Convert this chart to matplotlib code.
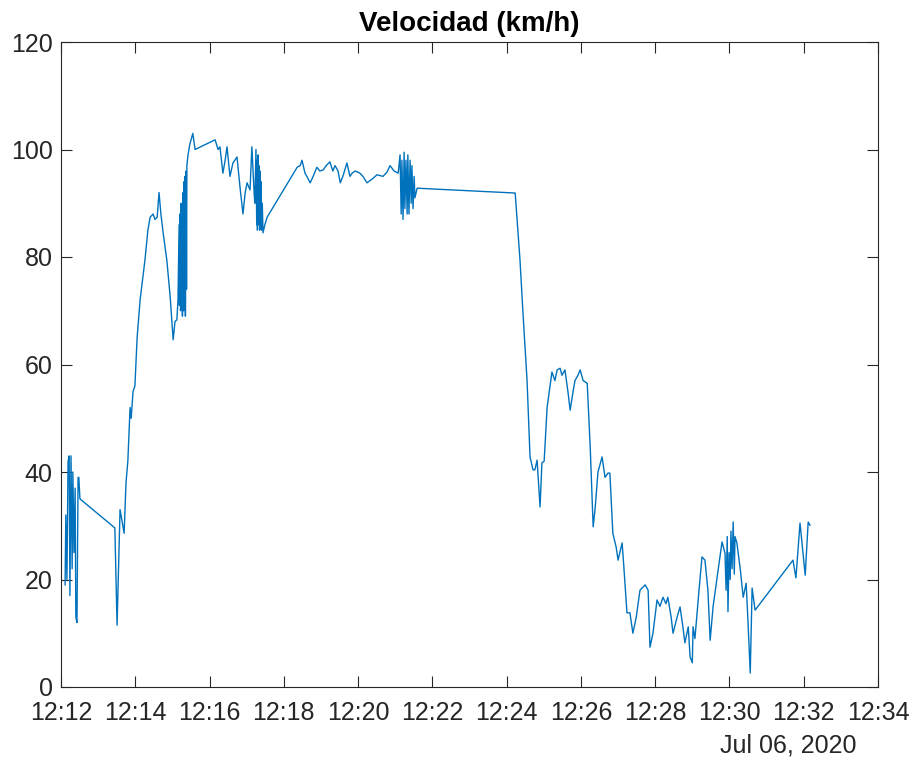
import matplotlib
matplotlib.use("Agg")
import matplotlib.pyplot as plt
import matplotlib.dates as mdates
import numpy as np
from datetime import datetime, timedelta

plt.rcParams['font.family'] = ['Liberation Sans', 'DejaVu Sans']

# time in minutes after 12:12:00, speed in km/h
minutes = [
    0.11, 0.13, 0.16, 0.19, 0.22, 0.24, 0.27, 0.30, 0.32, 0.35, 0.38, 0.40, 0.43, 0.46, 0.48, 0.51,
    1.45, 1.51, 1.59, 1.64, 1.70, 1.75, 1.80, 1.86, 1.89, 1.94, 1.99, 2.05, 2.13, 2.26, 2.34, 2.40,
    2.48, 2.53, 2.59, 2.64, 2.69, 2.75, 2.85, 2.94, 3.02, 3.07, 3.12, 3.15,
    3.18, 3.19, 3.20, 3.22, 3.23, 3.245, 3.26, 3.27, 3.29, 3.30, 3.31, 3.33, 3.34, 3.35, 3.37, 3.38, 3.39,
    3.42, 3.47, 3.55, 3.61, 4.15, 4.23,
    4.28, 4.36, 4.42, 4.47, 4.55, 4.63, 4.74, 4.82, 4.90, 4.96, 5.01, 5.09, 5.14, 5.20, 5.22,
    5.25, 5.27, 5.28, 5.29, 5.31, 5.32, 5.33, 5.35, 5.36, 5.37, 5.39, 5.40, 5.42,
    5.44, 5.49, 5.55, 6.36, 6.44, 6.49, 6.57, 6.62, 6.71, 6.79, 6.89, 6.97, 7.06, 7.14, 7.24, 7.32,
    7.38, 7.46, 7.52, 7.59, 7.70, 7.78, 7.84, 7.92, 8.05, 8.13, 8.24, 8.38, 8.51, 8.67, 8.78, 8.86,
    8.97, 9.08,
    9.13, 9.16, 9.18, 9.21, 9.24, 9.26, 9.29, 9.32, 9.34, 9.37, 9.40, 9.43, 9.45, 9.48, 9.51, 9.53,
    9.59, 12.23,
    12.36, 12.44, 12.55, 12.60, 12.63, 12.71, 12.76, 12.82, 12.90, 12.95, 13.01, 13.09, 13.22, 13.30,
    13.36, 13.44, 13.49, 13.57, 13.65, 13.71, 13.79, 13.84, 13.92, 13.98, 14.06, 14.17, 14.25, 14.33,
    14.38, 14.46, 14.57, 14.65, 14.73, 14.78, 14.86, 14.95, 15.00, 15.11, 15.16, 15.24, 15.32, 15.40,
    15.49, 15.59, 15.73, 15.81, 15.86, 15.94, 16.05, 16.13, 16.21, 16.29, 16.34, 16.43, 16.48, 16.59,
    16.67, 16.75, 16.80, 16.89, 16.94, 17.00, 17.02, 17.07, 17.18, 17.26, 17.34, 17.42, 17.48, 17.56,
    17.67, 17.80, 17.88,
    17.91, 17.94, 17.96, 17.99, 18.02, 18.04, 18.07, 18.10, 18.13, 18.15,
    18.20, 18.29, 18.37, 18.45, 18.50, 18.56, 18.61, 18.69, 19.71, 19.79, 19.90, 20.04, 20.12, 20.17,
]
speed = [
    19, 32, 20, 42, 43, 17, 43, 22, 40, 25, 37, 13, 12, 39, 39, 35,
    29.6, 11.5, 33, 31, 28.6, 38, 42, 52, 50, 55, 56, 65, 72, 79.4, 85, 87.4,
    88, 87, 87.4, 92, 88, 84.5, 79.4, 72.6, 64.6, 68, 68.3, 72,
    86, 71, 88, 70, 90, 72, 86, 69, 92, 70, 94, 71, 95, 69, 96, 74, 97,
    99, 101, 103, 100, 101.8, 100,
    100.5, 95.6, 98, 100.5, 95, 97.5, 98.6, 93, 88, 92, 93.8, 92.5, 100.5, 92, 90,
    100, 86, 98, 85, 99, 86, 97, 85, 96, 86, 94, 85, 90,
    84.5, 86, 87.4, 96.7, 97, 98, 95.6, 95, 93.8, 95, 96.7, 96, 96.2, 97, 97.7, 96,
    97, 96, 93.8, 95, 97.5, 95, 95.6, 96, 95.6, 95, 93.8, 94.5, 95.3, 95, 95.8, 97,
    96, 95.6,
    99, 88, 98, 87, 99.5, 89, 98, 88, 99, 88, 98, 90, 97, 89, 95, 91,
    92.8, 91.9,
    79.4, 69.6, 57, 48, 42.8, 40.4, 40.4, 42.2, 33.5, 41.7, 42, 52, 58.6, 57,
    59, 59.3, 58, 59, 55, 51.5, 55, 57, 58, 59, 57, 56.5, 44.7, 29.8,
    33, 40, 42.8, 39, 39.8, 39.8, 28.6, 26, 23.6, 26.8, 22, 13.8, 13.8, 10,
    13, 18, 19, 18, 7.4, 10, 16.2, 15, 16.7, 15.5, 16.7, 13, 10, 13,
    14.9, 11, 8.2, 11.2, 5.6, 4.5, 11.2, 9, 18, 24.2, 23.6, 18, 8.7, 15,
    20.5, 27, 24.9,
    18, 28, 14, 25, 20, 29, 22, 30.7, 21, 28,
    26.8, 22, 16.7, 19.3, 12, 2.6, 18.4, 14.3, 23.6, 20.3, 30.5, 20.8, 30.7, 30.1,
]

start = datetime(2020, 7, 6, 12, 12, 0)
times = [start + timedelta(minutes=m) for m in minutes]

axis_color = '#262626'
fig = plt.figure(figsize=(9.13, 7.64), dpi=100)
ax = fig.add_axes([61/913, 1-687/764, 817/913, 645/764])
ax.plot(times, speed, color='#0072BD', lw=1.0)

ax.set_xlim(start, start + timedelta(minutes=22))
ax.set_ylim(0, 120)
ax.set_yticks(np.arange(0, 121, 20))
ax.xaxis.set_major_locator(mdates.MinuteLocator(byminute=range(0, 60, 2)))
ax.xaxis.set_major_formatter(mdates.DateFormatter('%H:%M'))
ax.tick_params(direction='in', length=8, width=0.8, colors=axis_color,
               labelsize=18, top=True, right=True)
ax.tick_params(axis='x', pad=10)
ax.tick_params(axis='y', pad=6)
for s in ax.spines.values():
    s.set_color(axis_color)
    s.set_linewidth(0.8)

ax.set_title('Velocidad (km/h)', fontsize=20, fontweight='bold', color='black', pad=8)
fig.text(788/913, 1-745/764, 'Jul 06, 2020', ha='center', va='center',
         fontsize=18, color=axis_color)

fig.savefig('out.png', dpi=100)
